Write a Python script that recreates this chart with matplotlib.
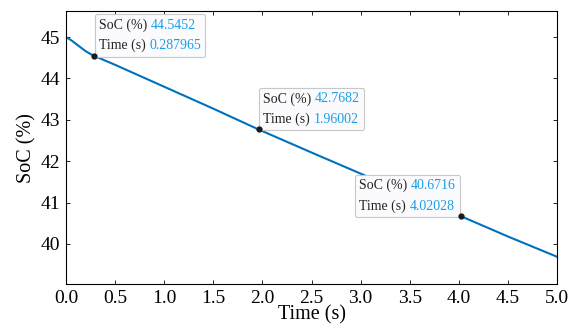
import matplotlib.pyplot as plt
from matplotlib.offsetbox import TextArea, HPacker, VPacker, AnnotationBbox
import numpy as np

# curve
time_s = [0.0, 0.05, 0.1, 0.15, 0.2, 0.25, 0.287965, 0.5, 1.0, 1.5, 1.96002,
          2.5, 3.0, 3.5, 4.02028, 4.5, 5.0]
soc_pct = [45.0, 44.93, 44.84, 44.75, 44.66, 44.59, 44.5452, 44.33, 43.80, 43.27, 42.7682,
           42.21, 41.70, 41.19, 40.6716, 40.18, 39.69]

# data tips
tip_t = [0.287965, 1.96002, 4.02028]
tip_soc = [44.5452, 42.7682, 40.6716]
tip_t_txt = ['0.287965', '1.96002', '4.02028']
tip_soc_txt = ['44.5452', '42.7682', '40.6716']

plt.rcParams['font.family'] = ['Liberation Serif', 'DejaVu Serif']

fig = plt.figure(figsize=(5.71, 3.35), dpi=100)
ax = fig.add_axes([0.1156, 0.152, 0.86, 0.815])

ax.plot(time_s, soc_pct, color='#0072BD', lw=1.5)
ax.set_xlim(0, 5)
ax.set_ylim(39.03, 45.63)
ax.set_xticks(np.arange(0, 5.01, 0.5))
ax.set_yticks([40, 41, 42, 43, 44, 45])
ax.tick_params(direction='in', top=True, right=True, labelsize=14, length=3, width=0.6, pad=4)
for s in ax.spines.values():
    s.set_linewidth(0.8)
ax.set_xlabel('Time (s)', fontsize=14.5, labelpad=-1)
ax.set_ylabel('SoC (%)', fontsize=14.5, labelpad=3)

val_color = '#1A9EE8'
offsets = [(3.5, 2.5), (3.5, 2.5), (-3.5, 2.5)]
aligns = [(0, 0), (0, 0), (1, 0)]
for i in range(3):
    ax.plot(tip_t[i], tip_soc[i], 'o', color='#1a1a1a', ms=3.5, zorder=5)
    fs = 10
    row1 = HPacker(children=[TextArea('SoC (%)', textprops=dict(color='#222222', size=fs)),
                             TextArea(tip_soc_txt[i], textprops=dict(color=val_color, size=fs))],
                   pad=0, sep=2.5)
    row2 = HPacker(children=[TextArea('Time (s)', textprops=dict(color='#222222', size=fs)),
                             TextArea(tip_t_txt[i], textprops=dict(color=val_color, size=fs))],
                   pad=0, sep=2.5)
    box = VPacker(children=[row1, row2], pad=0, sep=5, align='left')
    ab = AnnotationBbox(box, (tip_t[i], tip_soc[i]), xybox=offsets[i],
                        boxcoords='offset points', box_alignment=aligns[i],
                        frameon=True, pad=0.3,
                        bboxprops=dict(boxstyle='round,pad=0.3,rounding_size=0.15',
                                       fc='#fbfbfd', ec='#c8c8c8', lw=0.8))
    ax.add_artist(ab)

fig.savefig('out.png', dpi=100)
